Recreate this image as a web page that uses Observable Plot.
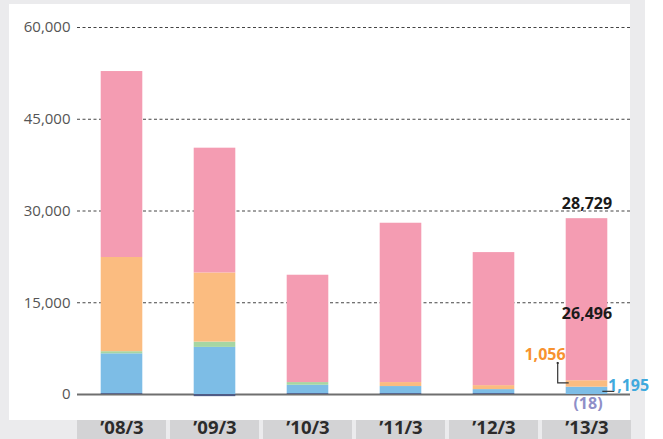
<!DOCTYPE html>
<html>
<head>
<meta charset="utf-8">
<script src="https://cdn.jsdelivr.net/npm/d3@7"></script>
<script src="https://cdn.jsdelivr.net/npm/@observablehq/plot@0.6"></script>
<style>
  html, body { margin: 0; padding: 0; background: #ffffff; }
  #wrap { position: relative; width: 663px; height: 439px; overflow: hidden; }
  #bg { position: absolute; left: 0; top: 0; width: 645px; height: 439px; background: #ebebed; }
  #panel { position: absolute; left: 9px; top: 4px; width: 621px; height: 416px; background: #ffffff; }
  #chart { position: absolute; left: 0; top: 0; }
  #chart svg { background: transparent; }
</style>
</head>
<body>
<div id="wrap"><div id="bg"></div><div id="panel"></div><div id="chart"></div></div>
<script>
const categories = ["’08/3", "’09/3", "’10/3", "’11/3", "’12/3", "’13/3"];
const seriesNames = ["S1", "S2", "S3", "S4", "S5"];
const seriesColors = ["#4f5b85", "#7dbde6", "#a6d6a3", "#fbbc80", "#f49cb2"];
const s1 = [150, -350, 150, 150, 150, -18];
const s2 = [6500, 7700, 1360, 1150, 650, 1195];
const s3 = [350, 870, 440, 0, 0, 0];
const s4 = [15400, 11300, 0, 650, 650, 1056];
const s5 = [30400, 20400, 17550, 26050, 21750, 26496];
const yTicks = [0, 15000, 30000, 45000, 60000];

const seriesValues = [s1, s2, s3, s4, s5];
const rows = [];
seriesNames.forEach((s, si) => categories.forEach((c, ci) => rows.push({cat: c, series: s, value: seriesValues[si][ci]})));

const last = categories.length - 1;
const lastCat = categories[last];
const total = seriesValues.reduce((a, arr) => a + arr[last], 0);
const posBase = s2[last];
const orangeMid = posBase + s4[last] / 2;
const blueMid = s2[last] / 2;
const pinkMid = posBase + s4[last] + s5[last] / 2;

const font = "'Open Sans', 'DejaVu Sans', sans-serif";
const barInset = 23.7;

const boxes = (index, scales, values, dims) => {
  const g = d3.create("svg:g");
  const x = scales.x;
  const top = dims.height - dims.marginBottom + 26;
  for (const c of categories) {
    g.append("rect")
      .attr("x", x(c)).attr("width", x.bandwidth())
      .attr("y", top).attr("height", dims.height - top)
      .attr("fill", "#d3d3d5");
  }
  return g.node();
};

const leaders = (index, scales, values, dims) => {
  const g = d3.create("svg:g").attr("fill", "none").attr("stroke", "#333").attr("stroke-width", 1.2);
  const x = scales.x, y = scales.y;
  const left = x(lastCat) + barInset;
  const right = x(lastCat) + x.bandwidth() - barInset;
  const yo = y(orangeMid) - 0.5;
  g.append("path").attr("d", `M${left - 8},${yo - 20}V${yo}H${left + 3}`);
  const yb = y(blueMid) + 1;
  g.append("path").attr("d", `M${right - 5},${yb}H${right + 7}`);
  g.append("path").attr("d", `M${left - 8},${yo - 21}v2`).attr("stroke-width", 2);
  return g.node();
};

const chart = Plot.plot({
  width: 663,
  height: 439,
  marginLeft: 77,
  marginRight: 31,
  marginTop: 27,
  marginBottom: 45,
  style: {fontFamily: font, background: "transparent", overflow: "visible"},
  x: {type: "band", domain: categories, paddingInner: 0.04, paddingOuter: 0, axis: null},
  y: {domain: [0, 60000], axis: null},
  color: {type: "ordinal", domain: seriesNames, range: seriesColors},
  marks: [
    Plot.ruleY(yTicks.filter(d => d > 0), {stroke: "#444", strokeWidth: 1, strokeDasharray: "3,2.5", insetRight: 2}),
    Plot.ruleY([0], {stroke: "#6f6f6f", strokeWidth: 2, insetRight: 2}),
    Plot.barY(rows, {x: "cat", y: "value", fill: "series", insetLeft: barInset, insetRight: barInset}),
    Plot.axisY({ticks: yTicks, tickSize: 0, tickPadding: 7, tickFormat: d3.format(","), label: null, fontSize: 15, color: "#555", fill: "#555"}),
    boxes,
    Plot.text(categories, {x: d => d, text: d => d, frameAnchor: "bottom", dy: 39.5, lineAnchor: "bottom", fontSize: 18.5, fontWeight: "bold", fill: "#2b2b2b"}),
    leaders,
    Plot.text([total], {x: () => lastCat, y: d => d, text: d => d3.format(",")(d), lineAnchor: "bottom", dy: -10, fontSize: 16, fontWeight: "bold", fill: "#1a1a1a"}),
    Plot.text([s5[last]], {x: () => lastCat, y: () => pinkMid, text: d => d3.format(",")(d), lineAnchor: "bottom", dy: 19, fontSize: 16, fontWeight: "bold", fill: "#1a1a1a"}),
    Plot.text([s4[last]], {x: () => lastCat, y: () => orangeMid, text: d => d3.format(",")(d), lineAnchor: "bottom", dx: -42, dy: -24, fontSize: 16, fontWeight: "bold", fill: "#f7922f"}),
    Plot.text([s2[last]], {x: () => lastCat, y: () => blueMid, text: d => d3.format(",")(d), textAnchor: "start", lineAnchor: "bottom", dx: 21, dy: 0, fontSize: 16, fontWeight: "bold", fill: "#3fa9dd"}),
    Plot.text([s1[last]], {x: () => lastCat, y: () => 0, text: d => `(${Math.abs(d)})`, lineAnchor: "bottom", dx: 1, dy: 14, fontSize: 16, fontWeight: "bold", fill: "#8f8fc8"})
  ]
});
document.getElementById("chart").appendChild(chart);
</script>
</body>
</html>
